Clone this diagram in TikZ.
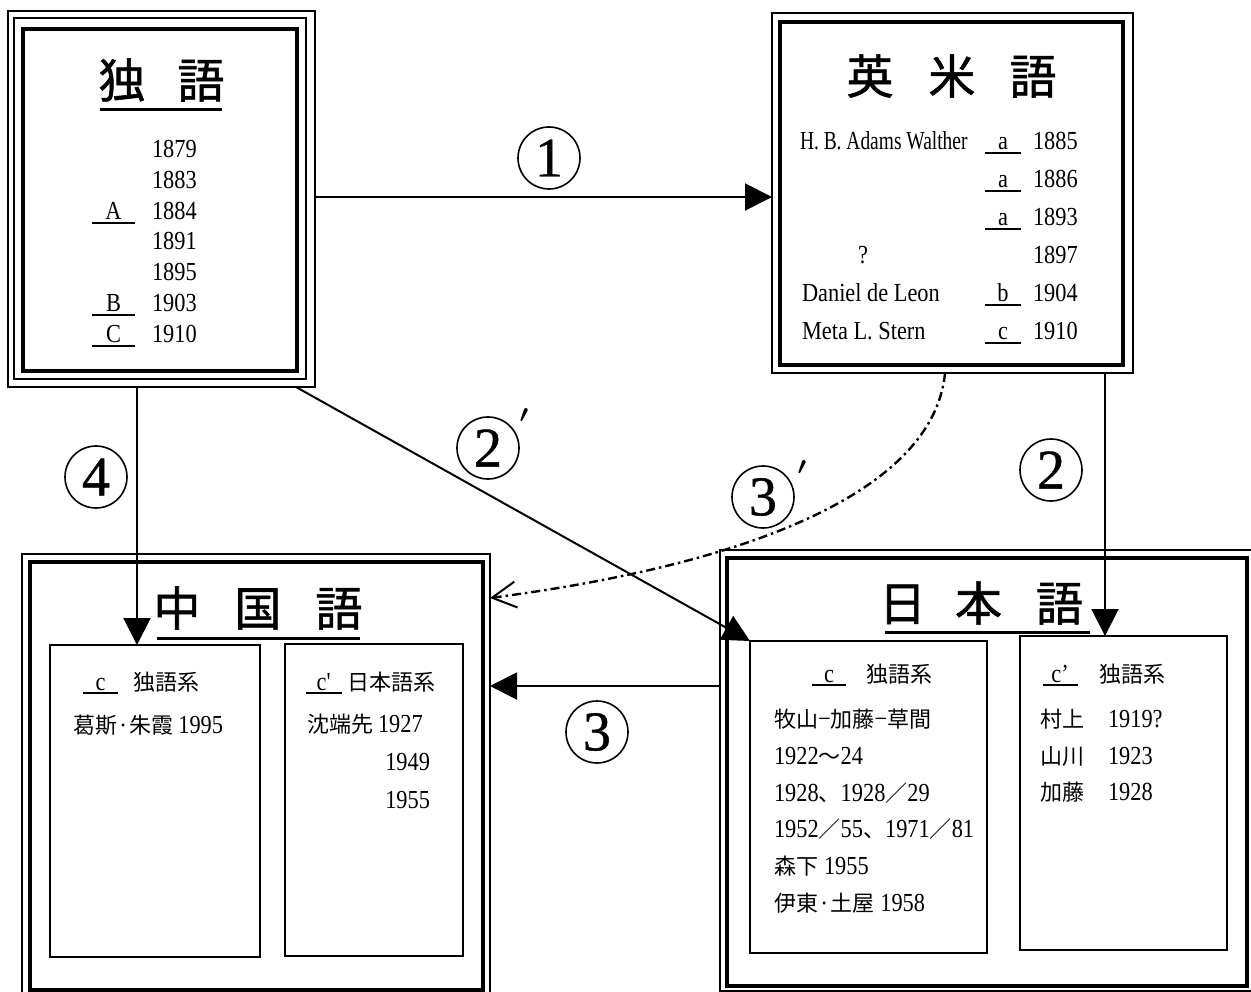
\documentclass[tikz,border=0pt]{standalone}
\usepackage{fontspec}
\setmainfont{Liberation Serif}
\newfontfamily\latf[FakeStretch=0.86]{Liberation Serif}
\newfontfamily\numf[FakeBold=0.8]{Liberation Serif}
\newfontfamily\jpf{Noto Sans CJK JP}
\newfontfamily\jpt[FakeBold=1.2]{Noto Sans CJK JP}
\usetikzlibrary{arrows.meta,fit}
\newcommand\bd{\latf\fontsize{26}{28}\selectfont}
\newcommand\cj{\jpf\fontsize{22}{24}\selectfont}
\newcommand\ttl{\jpt\fontsize{47}{50}\selectfont}
\newcommand\ulb[2]{\vtop{\hbox to #1{\hss#2\hss}\kern2pt\hrule height 1.8pt}}
\begin{document}
\begin{tikzpicture}[x=1pt,y=-1pt,
  thinfr/.style={draw, line width=1.8pt, inner sep=0pt, outer sep=0pt},
  thickfr/.style={draw, line width=3.6pt, inner sep=0pt, outer sep=0pt},
  midfr/.style={draw, line width=2.6pt, inner sep=0pt, outer sep=0pt},
  txt/.style={inner sep=0pt, outer sep=0pt, anchor=base west, font=\bd},
  cjt/.style={inner sep=0pt, outer sep=0pt, anchor=base west, font=\cj},
  lab/.style={inner sep=0pt, outer sep=0pt, anchor=base, font=\bd},
  ttlnode/.style={inner sep=0pt, font=\ttl},
  ul/.style={line width=3pt},
  arr/.style={line width=2pt, -{Triangle[length=27pt,width=27pt]}},
  openarr/.style={line width=2.4pt, dash pattern=on 9pt off 4pt on 2.5pt off 4pt,
     -{Straight Barb[length=24pt,width=26pt,line width=2pt]}},
  num/.style={circle, draw, line width=1.6pt, minimum size=62pt, inner sep=0pt,
     font=\numf\fontsize{56}{56}\selectfont},
  primemark/.style={inner sep=0pt, font=\fontsize{34}{34}\selectfont\boldmath}]
\useasboundingbox (0,0) rectangle (1251,992);
\clip (0,0) rectangle (1251,992);

% ---------- frames ----------
\node[thinfr, fit={(8,11) (315,387)}] (deO) {};
\node[thinfr, fit={(14,18) (306,379)}] (deM) {};
\node[thickfr, fit={(23,29) (297,371)}] (de) {};

\node[thinfr, fit={(772,13) (1133,373)}] (enO) {};
\node[thickfr, fit={(780,22) (1123,365)}] (en) {};

\node[thinfr, fit={(22,554) (490,999)}] (zhO) {};
\node[thickfr, fit={(30,562) (483,990)}] (zh) {};
\node[midfr, fit={(50,645) (260,957)}] (zhL) {};
\node[midfr, fit={(285,644) (463,956)}] (zhR) {};

\node[thinfr, fit={(720,550) (1256,991)}] (jaO) {};
\node[thickfr, fit={(727,558) (1247,986)}] (ja) {};
\node[midfr, fit={(750,641) (987,953)}] (jaL) {};
\node[midfr, fit={(1020,636) (1227,950)}] (jaR) {};

% ---------- titles ----------
\node[ttlnode] (tde) at (161.5,80) {独\hspace{32pt}語};
\draw[ul] (100,110) -- (222,110);
\node[ttlnode] (ten) at (951.5,76) {英\hspace{35pt}米\hspace{34pt}語};
\node[ttlnode] (tzh) at (258,608) {中\hspace{34pt}国\hspace{34pt}語};
\draw[ul] (157,638) -- (360,638);
\node[ttlnode] (tja) at (981,603) {日\hspace{29pt}本\hspace{34pt}語};
\draw[ul] (885,632) -- (1090,632);

% ---------- German box ----------
\foreach \y/\t [count=\i] in {158/1879,189/1883,220/1884,250/1891,281/1895,312/1903,343/1910}
  \node[txt] (dy\i) at (152,\y) {\t};
\node[lab] (dA) at (113.5,220) {\ulb{43pt}{A}};
\node[lab] (dB) at (113.5,312) {\ulb{43pt}{B}};
\node[lab] (dC) at (113.5,343) {\ulb{43pt}{C}};

% ---------- English box ----------
\node[txt] (en1) at (800,150) {\scalebox{0.87}[1]{H. B. Adams Walther}};
\node[lab] (enq) at (863,264) {?};
\node[txt] (en5) at (802,302) {Daniel de Leon};
\node[txt] (en6) at (802,340) {Meta L. Stern};
\node[lab] (ea1) at (1003,150) {\ulb{36pt}{a}};
\node[lab] (ea2) at (1003,188) {\ulb{36pt}{a}};
\node[lab] (ea3) at (1003,226) {\ulb{36pt}{a}};
\node[lab] (eb) at (1003,302) {\ulb{36pt}{b}};
\node[lab] (ec) at (1003,340) {\ulb{36pt}{c}};
\foreach \y/\t [count=\i] in {150/1885,188/1886,226/1893,264/1897,302/1904,340/1910}
  \node[txt] (ey\i) at (1033,\y) {\t};

% ---------- Chinese box ----------
\node[lab] (zc) at (100.5,690) {\ulb{35pt}{c}};
\node[cjt] (zc1) at (133,690) {独語系};
\node[txt] (zl1) at (73,733) {{\cj 葛斯·朱霞}\hspace{5pt}1995};
\node[lab] (zcp) at (324,690) {\ulb{36pt}{c\textquotesingle}};
\node[cjt] (zc2) at (347,690) {日本語系};
\node[txt] (zr1) at (307,732) {{\cj 沈端先}\hspace{5pt}1927};
\node[txt, anchor=base east] (zr2) at (430,770) {1949};
\node[txt, anchor=base east] (zr3) at (430,808) {1955};

% ---------- Japanese box ----------
\node[lab] (jc) at (829,682) {\ulb{34pt}{c}};
\node[cjt] (jc1) at (866,682) {独語系};
\node[txt] (jl1) at (774,727) {{\cj 牧山}−{\cj 加藤}−{\cj 草間}};
\node[txt] (jl2) at (774,764) {1922{\cj 〜}24};
\node[txt] (jl3) at (774,801) {1928{\cj 、}1928{\cj ／}29};
\node[txt] (jl4) at (774,837) {1952{\cj ／}55{\cj 、}1971{\cj ／}81};
\node[txt] (jl5) at (774,874) {{\cj 森下}\hspace{6pt}1955};
\node[txt] (jl6) at (774,911) {{\cj 伊東·土屋}\hspace{6pt}1958};
\node[lab] (jcp) at (1060,682) {\ulb{35pt}{c’}};
\node[cjt] (jc2) at (1099,682) {独語系};
\node[cjt] (jr1) at (1040,727) {村上};
\node[txt] (jr1y) at (1108,727) {1919?};
\node[cjt] (jr2) at (1040,764) {山川};
\node[txt] (jr2y) at (1108,764) {1923};
\node[cjt] (jr3) at (1040,800) {加藤};
\node[txt] (jr3y) at (1108,800) {1928};

% ---------- connectors ----------
\coordinate (p1) at (0,197);
\coordinate (p2) at (1105,0);
\coordinate (p3) at (0,686);
\coordinate (p4) at (137,0);
\coordinate (q2) at (296,0);
\coordinate (q3) at (945,0);
\coordinate (r3) at (0,598);
\draw[arr] (deO.east |- p1) -- (enO.west |- p1);
\draw[arr] (enO.south -| p2) -- (jaR.north -| p2);
\draw[arr] (jaO.west |- p3) -- (zhO.east |- p3);
\draw[arr] (deO.south -| p4) -- (zhL.north -| p4);
\draw[arr] (deO.south -| q2) -- (jaL.north west);
\draw[openarr] (enO.south -| q3) .. controls (935,480) and (780,560) .. (zhO.east |- r3);

% ---------- labels ----------
\node[num] (l1) at (549,158) {1};
\node[num] (l2) at (1051,470) {2};
\node[num] (l2p) at (488,448) {2};
\node[primemark] (l2pp) at (524,416) {$\prime$};
\node[num] (l3) at (597,732) {3};
\node[num] (l3p) at (763,497) {3};
\node[primemark] (l3pp) at (802,468) {$\prime$};
\node[num] (l4) at (96,477) {4};
\end{tikzpicture}
\end{document}
